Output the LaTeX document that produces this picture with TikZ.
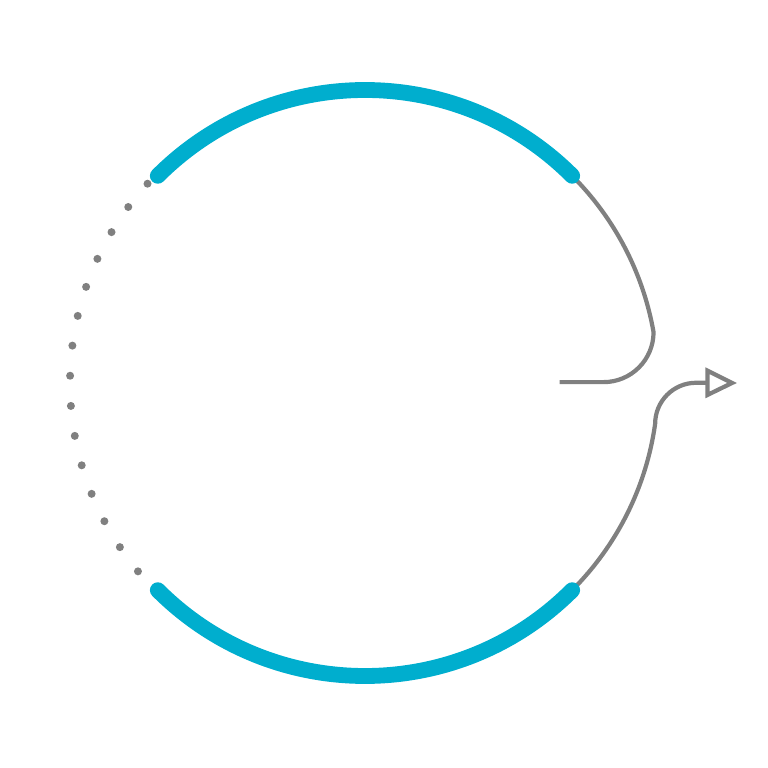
\documentclass[tikz,border=0pt]{standalone}
\usetikzlibrary{arrows.meta}
\definecolor{CycleBlue}{RGB}{0,174,206}
\definecolor{CycleGrey}{RGB}{128,128,128}
\tikzset{band/.style={draw=CycleBlue,line width=4.5pt,line cap=round}, trail/.style={draw=CycleGrey,line width=1.2pt}, pip/.style={circle,fill=CycleGrey,inner sep=0pt,minimum size=0.8mm}}
\begin{document}
\begin{tikzpicture}
\useasboundingbox (-3.65,-3.85) rectangle (4.03,3.83);
\coordinate (ctr) at (0,0);
\coordinate (ta) at (45:2.93);
\coordinate (ba) at (-45:2.93);
\coordinate (tip) at (3.72,0);
\draw[trail] (ta) arc[start angle=45,end angle=10,radius=2.93] arc[start angle=0,end angle=-90,radius=0.5] -- ++(-0.44,0);
\draw[trail,-{Triangle[open,length=9pt,width=8.5pt]}] (ba) arc[start angle=-45,end angle=-8,radius=2.93] arc[start angle=180,end angle=90,radius=0.41] -- (tip);
\draw[band] (ta) arc[start angle=45,end angle=135,radius=2.93];
\draw[band] (ba) arc[start angle=-45,end angle=-135,radius=2.93];
\foreach \k in {0,...,14}
  \node[pip] (pip\k) at ({137.5+5.87*\k}:2.95) {};
\end{tikzpicture}
\end{document}
